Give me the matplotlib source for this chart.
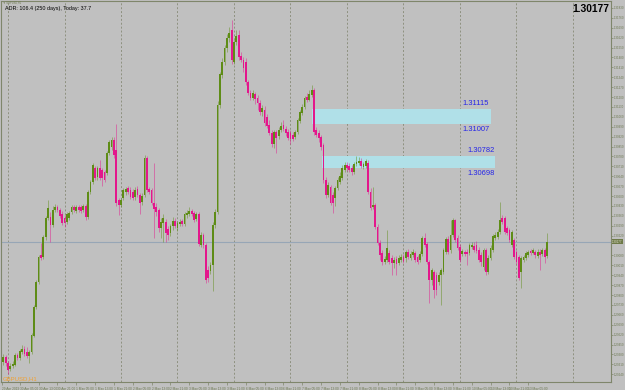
import matplotlib
matplotlib.use("Agg")
import matplotlib.pyplot as plt
import matplotlib.transforms as mtransforms
import numpy as np

# ---------------- data (GBPUSD H1) ----------------
opens = [
1.29327,1.29363,1.29320,1.29277,1.29299,1.29306,1.29377,1.29355,1.29398,1.29418,
1.29398,1.29370,1.29398,1.29511,1.29716,1.29892,1.30084,1.30070,1.30211,1.30344,
1.30352,1.30296,1.30401,1.30423,1.30401,1.30373,1.30344,1.30317,1.30344,1.30387,
1.30423,1.30394,1.30423,1.30423,1.30401,1.30430,1.30352,1.30529,1.30599,1.30698,
1.30635,1.30698,1.30684,1.30670,1.30663,1.30805,1.30847,1.30896,1.30826,1.30472,
1.30437,1.30486,1.30529,1.30556,1.30543,1.30529,1.30494,1.30549,1.30508,1.30458,
1.30508,1.30769,1.30549,1.30543,1.30451,1.30423,1.30401,1.30274,1.30310,1.30317,
1.30267,1.30239,1.30289,1.30324,1.30274,1.30303,1.30324,1.30303,1.30366,1.30373,
1.30394,1.30380,1.30338,1.30373,1.30154,1.30225,1.30154,1.29977,1.29970,1.30013,
1.30296,1.30387,1.31144,1.31356,1.31448,1.31546,1.31617,1.31674,1.31448,1.31589,
1.31639,1.31490,1.31462,1.31448,1.31306,1.31229,1.31193,1.31222,1.31193,1.31158,
1.31094,1.31108,1.31059,1.31003,1.30946,1.30868,1.30953,1.30925,1.30967,1.31003,
1.30974,1.30953,1.30946,1.30932,1.30918,1.30953,1.31031,1.31087,1.31130,1.31201,
1.31179,1.31215,1.31250,1.30967,1.30946,1.30918,1.30861,1.30613,1.30508,1.30564,
1.30508,1.30486,1.30557,1.30599,1.30627,1.30684,1.30720,1.30713,1.30698,1.30670,
1.30727,1.30734,1.30748,1.30706,1.30713,1.30734,1.30529,1.30423,1.30437,1.30282,
1.30168,1.30098,1.30034,1.30048,1.30098,1.30062,1.30027,1.30055,1.30027,1.30048,
1.30070,1.30062,1.30105,1.30062,1.30084,1.30098,1.30070,1.30048,1.30091,1.30203,
1.30161,1.30034,1.29906,1.29963,1.29942,1.29892,1.29942,1.29963,1.30105,1.30196,
1.30119,1.30225,1.30331,1.30203,1.30140,1.30091,1.30105,1.30105,1.30098,1.30140,
1.30147,1.30154,1.30119,1.30084,1.29999,1.30119,1.29963,1.30062,1.30119,1.30203,
1.30211,1.30246,1.30344,1.30344,1.30274,1.30260,1.30154,1.30189,1.30105,1.30070,
1.29963,1.30048,1.30062,1.30084,1.30112,1.30098,1.30105,1.30077,1.30105,1.30091,
1.30119,1.30077]
highs = [
1.29384,1.29377,1.29334,1.29320,1.29334,1.29391,1.29391,1.29418,1.29447,1.29440,
1.29433,1.29412,1.29532,1.29730,1.29906,1.30084,1.30168,1.30225,1.30359,1.30472,
1.30387,1.30430,1.30444,1.30437,1.30415,1.30394,1.30366,1.30387,1.30394,1.30437,
1.30437,1.30437,1.30437,1.30437,1.30444,1.30444,1.30543,1.30613,1.30734,1.30713,
1.30713,1.30755,1.30698,1.30684,1.30819,1.30896,1.30918,1.30918,1.31010,1.30486,
1.30486,1.30556,1.30563,1.30571,1.30563,1.30549,1.30563,1.30571,1.30522,1.30522,
1.30791,1.30783,1.30563,1.30556,1.30734,1.30451,1.30415,1.30344,1.30373,1.30338,
1.30289,1.30303,1.30352,1.30344,1.30324,1.30338,1.30338,1.30387,1.30401,1.30423,
1.30408,1.30394,1.30387,1.30387,1.30246,1.30239,1.30168,1.30006,1.30034,1.30317,
1.30408,1.31172,1.31377,1.31475,1.31568,1.31646,1.31696,1.31745,1.31603,1.31674,
1.31674,1.31518,1.31483,1.31475,1.31320,1.31250,1.31250,1.31236,1.31215,1.31179,
1.31144,1.31137,1.31080,1.31038,1.30967,1.30967,1.30967,1.30989,1.31024,1.31038,
1.30996,1.30974,1.30967,1.30953,1.30967,1.31051,1.31108,1.31151,1.31208,1.31229,
1.31250,1.31285,1.31263,1.30989,1.30967,1.30932,1.30875,1.30635,1.30599,1.30578,
1.30529,1.30571,1.30635,1.30670,1.30720,1.30741,1.30741,1.30734,1.30720,1.30741,
1.30784,1.30777,1.30769,1.30741,1.30762,1.30755,1.30557,1.30564,1.30451,1.30303,
1.30189,1.30119,1.30077,1.30260,1.30119,1.30084,1.30070,1.30077,1.30084,1.30091,
1.30091,1.30119,1.30125,1.30112,1.30125,1.30112,1.30084,1.30112,1.30218,1.30239,
1.30175,1.30048,1.29991,1.29977,1.29963,1.29963,1.29991,1.30132,1.30211,1.30218,
1.30331,1.30344,1.30338,1.30225,1.30161,1.30125,1.30119,1.30125,1.30168,1.30175,
1.30175,1.30182,1.30140,1.30105,1.30132,1.30132,1.30084,1.30154,1.30232,1.30246,
1.30267,1.30458,1.30366,1.30359,1.30289,1.30274,1.30260,1.30203,1.30119,1.30084,
1.30077,1.30084,1.30112,1.30119,1.30125,1.30132,1.30119,1.30125,1.30125,1.30132,
1.30132,1.30239]
lows = [
1.29306,1.29299,1.29242,1.29263,1.29284,1.29299,1.29341,1.29341,1.29384,1.29370,
1.29355,1.29320,1.29384,1.29504,1.29701,1.29878,1.30048,1.30055,1.30189,1.30331,
1.30175,1.30282,1.30387,1.30387,1.30344,1.30296,1.30282,1.30303,1.30331,1.30373,
1.30387,1.30380,1.30387,1.30380,1.30387,1.30331,1.30338,1.30515,1.30585,1.30613,
1.30613,1.30613,1.30571,1.30599,1.30649,1.30791,1.30826,1.30769,1.30430,1.30366,
1.30423,1.30472,1.30508,1.30515,1.30479,1.30472,1.30472,1.30494,1.30373,1.30437,
1.30494,1.30529,1.30515,1.30437,1.30204,1.30359,1.30246,1.30204,1.30175,1.30175,
1.30189,1.30218,1.30260,1.30274,1.30253,1.30289,1.30289,1.30289,1.30344,1.30359,
1.30359,1.30317,1.30324,1.30147,1.30140,1.30133,1.29885,1.29892,1.29949,1.29829,
1.30274,1.30373,1.31122,1.31334,1.31427,1.31518,1.31589,1.31434,1.31434,1.31568,
1.31462,1.31448,1.31377,1.31285,1.31215,1.31179,1.31179,1.31151,1.31108,1.31073,
1.31066,1.30996,1.30981,1.30932,1.30847,1.30839,1.30805,1.30903,1.30953,1.30960,
1.30925,1.30896,1.30868,1.30889,1.30903,1.30939,1.31017,1.31073,1.31115,1.31165,
1.31172,1.31201,1.30932,1.30918,1.30882,1.30826,1.30592,1.30486,1.30494,1.30437,
1.30380,1.30430,1.30543,1.30585,1.30613,1.30670,1.30677,1.30670,1.30649,1.30656,
1.30713,1.30720,1.30698,1.30691,1.30698,1.30515,1.30401,1.30408,1.30267,1.30154,
1.30048,1.30013,1.30020,1.30034,1.30020,1.29942,1.29991,1.29942,1.30013,1.30034,
1.30027,1.30034,1.30055,1.30048,1.30070,1.30034,1.30020,1.30034,1.30077,1.30140,
1.30020,1.29744,1.29871,1.29779,1.29801,1.29871,1.29730,1.29949,1.30091,1.30091,
1.30098,1.30211,1.30175,1.30119,1.30034,1.30077,1.30077,1.30013,1.30084,1.30125,
1.30105,1.30098,1.30034,1.30006,1.29977,1.29942,1.29949,1.30048,1.30105,1.30189,
1.30196,1.30232,1.30303,1.30232,1.30225,1.30175,1.30140,1.30055,1.30020,1.29906,
1.29849,1.30034,1.30048,1.30070,1.30084,1.30091,1.30062,1.30062,1.29977,1.30077,
1.30027,1.30062]
closes = [
1.29363,1.29320,1.29270,1.29299,1.29313,1.29377,1.29355,1.29405,1.29418,1.29384,
1.29370,1.29398,1.29518,1.29716,1.29892,1.30070,1.30062,1.30211,1.30344,1.30415,
1.30296,1.30401,1.30423,1.30401,1.30359,1.30310,1.30310,1.30373,1.30380,1.30423,
1.30401,1.30423,1.30401,1.30394,1.30430,1.30352,1.30529,1.30599,1.30720,1.30627,
1.30698,1.30627,1.30627,1.30613,1.30805,1.30882,1.30896,1.30791,1.30451,1.30437,
1.30472,1.30543,1.30549,1.30529,1.30494,1.30486,1.30543,1.30508,1.30451,1.30501,
1.30769,1.30543,1.30529,1.30451,1.30408,1.30387,1.30274,1.30317,1.30344,1.30239,
1.30225,1.30289,1.30324,1.30289,1.30310,1.30317,1.30303,1.30373,1.30380,1.30394,
1.30373,1.30331,1.30373,1.30161,1.30225,1.30154,1.29906,1.29920,1.30013,1.30296,
1.30387,1.31144,1.31363,1.31448,1.31546,1.31617,1.31653,1.31462,1.31589,1.31632,
1.31483,1.31462,1.31405,1.31306,1.31229,1.31193,1.31229,1.31186,1.31158,1.31094,
1.31122,1.31017,1.30996,1.30946,1.30868,1.30953,1.30910,1.30967,1.30996,1.30974,
1.30946,1.30910,1.30903,1.30903,1.30953,1.31038,1.31094,1.31130,1.31193,1.31179,
1.31222,1.31250,1.30953,1.30932,1.30910,1.30847,1.30613,1.30508,1.30578,1.30451,
1.30451,1.30557,1.30613,1.30642,1.30698,1.30720,1.30698,1.30684,1.30670,1.30727,
1.30741,1.30748,1.30713,1.30727,1.30748,1.30529,1.30415,1.30437,1.30282,1.30168,
1.30084,1.30034,1.30055,1.30132,1.30034,1.30027,1.30048,1.30020,1.30062,1.30070,
1.30041,1.30105,1.30070,1.30091,1.30105,1.30048,1.30034,1.30091,1.30203,1.30154,
1.30034,1.29906,1.29977,1.29836,1.29836,1.29942,1.29977,1.30119,1.30196,1.30105,
1.30225,1.30331,1.30189,1.30132,1.30048,1.30112,1.30091,1.30091,1.30154,1.30154,
1.30119,1.30112,1.30048,1.30034,1.30119,1.29963,1.30062,1.30132,1.30218,1.30225,
1.30246,1.30331,1.30317,1.30246,1.30239,1.30189,1.30246,1.30070,1.30034,1.29920,
1.30062,1.30070,1.30098,1.30105,1.30098,1.30119,1.30084,1.30105,1.30084,1.30119,
1.30070,1.30177]

current_price = 1.30177
period_starts = [2, 26, 50, 74, 98, 122, 146, 170, 194, 218, 242]   # day separators (bar index)

zone_left = [131, 135.5]
zone_right = [207, 209]
zone_low = [1.31007, 1.30698]
zone_high = [1.31115, 1.30782]
zone_label_bar = [194.9, 197.0]

price_ticks = [1.31830,1.31760,1.31690,1.31620,1.31550,1.31480,1.31410,1.31340,1.31270,
               1.31200,1.31130,1.31060,1.30990,1.30920,1.30850,1.30780,1.30710,1.30640,
               1.30570,1.30500,1.30430,1.30360,1.30290,1.30220,1.30080,1.30010,1.29940,
               1.29870,1.29800,1.29730,1.29660,1.29590,1.29520,1.29450,1.29380,1.29310,1.29240]

time_label_bars = [-0.5,7,15,23,31,39,47,55,63,71,79,87,95,103,111,119,127,135,143,151,
                   159,167,175,183,191,199,207,215,223]
time_labels = ["29 Apr 2019","30 Apr 05:00","30 Apr 13:00","30 Apr 21:00","1 May 05:00",
               "1 May 13:00","1 May 21:00","2 May 05:00","2 May 13:00","2 May 21:00",
               "3 May 05:00","3 May 13:00","3 May 21:00","6 May 05:00","6 May 13:00",
               "6 May 21:00","7 May 05:00","7 May 13:00","7 May 21:00","8 May 05:00",
               "8 May 13:00","8 May 21:00","9 May 05:00","9 May 13:00","9 May 21:00",
               "10 May 05:00","10 May 13:00","10 May 21:00","13 May 05:00"]

y_min, y_max = 1.29185, 1.31879
x_min, x_max = -0.98, 258.16

# ---------------- style ----------------
BG = "#C0C0C0"
UP = "#5E8C16"
DOWN = "#E3178C"
AXIS = "#7F866B"
LBL = "#6C7850"
plt.rcParams["font.family"] = ["Liberation Sans", "DejaVu Sans"]

fig = plt.figure(figsize=(6.25, 3.9), dpi=100, facecolor=BG)
ax = fig.add_axes([1/625, 8/390, 610/625, 381/390])
ax.set_facecolor(BG)
ax.set_xlim(x_min, x_max)
ax.set_ylim(y_min, y_max)

o = np.array(opens); h = np.array(highs); l = np.array(lows); c = np.array(closes)
x = np.arange(len(o))
up = c >= o
cols = np.where(up, UP, DOWN)

# day separators
for p in period_starts:
    ax.axvline(p, color="#8E9180", lw=0.7, ls=(0, (2, 2)), zorder=1)

# zones
for xl, xr, lo, hi in zip(zone_left, zone_right, zone_low, zone_high):
    ax.add_patch(plt.Rectangle((xl, lo), xr - xl, hi - lo, facecolor="#B0E0E8",
                               edgecolor="none", zorder=2))

# current price line
ax.axhline(current_price, color="#97A6B6", lw=0.8, zorder=2)

# candles
ax.vlines(x, l, h, colors=cols, lw=0.6, alpha=0.55, zorder=3)
ax.bar(x, np.maximum(np.abs(c - o), 0.00003), bottom=np.minimum(o, c), width=0.75,
       color=cols, linewidth=0, zorder=4)

# zone labels
for xb, lo, hi in zip(zone_label_bar, zone_low, zone_high):
    ax.annotate(f"{hi:.5f}", (xb, hi), xytext=(0, 1.2), textcoords="offset points",
                ha="left", va="bottom", fontsize=5.4, color="#2424E8", zorder=6)
    ax.annotate(f"{lo:.5f}", (xb, lo), xytext=(0, -1.5), textcoords="offset points",
                ha="left", va="top", fontsize=5.4, color="#2424E8", zorder=6)

# spines
for s in ax.spines.values():
    s.set_color(AXIS)
    s.set_linewidth(0.8)

# right price axis
ax.yaxis.tick_right()
ax.set_yticks(price_ticks)
ax.set_yticklabels([f"{v:.5f}" for v in price_ticks])
ax.tick_params(axis="y", length=1.3, width=0.5, colors=AXIS, labelcolor=LBL,
               labelsize=2.1, pad=0.4)

# time axis
ax.set_xticks(time_label_bars)
ax.set_xticklabels(time_labels)
ax.tick_params(axis="x", length=2.5, width=0.5, colors=AXIS, labelcolor=LBL,
               labelsize=2.3, pad=0.8)
for t in ax.get_xticklabels():
    t.set_ha("left")

# current price marker on axis
trans = mtransforms.blended_transform_factory(ax.transAxes, ax.transData)
ax.text(1.002, current_price, f"{current_price:.5f}", transform=trans, ha="left",
        va="center", fontsize=2.1, color="#E8E8D8",
        bbox=dict(boxstyle="square,pad=0.2", facecolor="#6E7A48", edgecolor="none"),
        zorder=7, clip_on=False)

# texts
fig.text(3/625, 1 - 2.5/390, "\u25bc GBPUSD,H1", fontsize=1.8, color="#6E7A50",
         va="center", ha="left")
fig.text(5/625, 1 - 8.5/390, "ADR: 106.4 (250 days), Today: 37.7", fontsize=3.9,
         color="black", va="center", ha="left")
fig.text(609/625, 1 - 9/390, f"{current_price:.5f}", fontsize=7.4, fontweight="bold",
         color="black", va="center", ha="right")
fig.text(2.5/625, 1 - 379/390, "GBPUSD,H1", fontsize=4.3, color="#F0A030",
         va="center", ha="left")

fig.savefig("out.png", dpi=100, facecolor=BG)
